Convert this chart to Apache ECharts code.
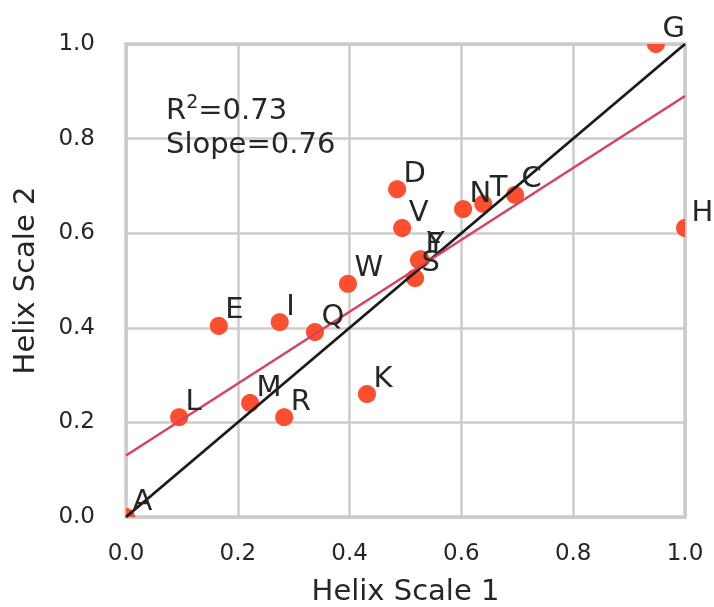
<!DOCTYPE html>
<html>
<head>
<meta charset="utf-8">
<script src="https://cdn.jsdelivr.net/npm/echarts@6/dist/echarts.min.js"></script>
<style>
  html, body { margin: 0; padding: 0; background: #ffffff; }
  #chart { width: 714px; height: 607px; }
</style>
</head>
<body>
<div id="chart"></div>
<script>
// Residue propensities on two helix scales
const residues = ['A', 'L', 'M', 'R', 'K', 'E', 'I', 'Q', 'W', 'D', 'V', 'F', 'Y', 'S', 'N', 'T', 'C', 'G', 'H'];
const scale1 = [0.00, 0.095, 0.222, 0.283, 0.431, 0.166, 0.275, 0.338, 0.397, 0.485, 0.494, 0.524, 0.527, 0.517, 0.603, 0.639, 0.696, 0.948, 1.00];
const scale2 = [0.00, 0.211, 0.241, 0.211, 0.260, 0.404, 0.412, 0.391, 0.493, 0.693, 0.611, 0.543, 0.545, 0.505, 0.651, 0.662, 0.681, 1.00, 0.611];

// Least-squares fit reported in the annotation
const fitSlope = 0.76;
const fitIntercept = 0.13;

const ticks = [0.0, 0.2, 0.4, 0.6, 0.8, 1.0];

const points = residues.map((r, i) => [scale1[i], scale2[i], r]);
const font = 'DejaVu Sans';
const textColor = '#262626';
const dotColor = '#fc4f30';
const gridColor = '#cccccc';

const chart = echarts.init(document.getElementById('chart'), null, { renderer: 'canvas' });

const axisCommon = {
  min: ticks[0],
  max: ticks[ticks.length - 1],
  interval: 0.2,
  axisLine: { show: false },
  axisTick: { show: false },
  splitLine: { show: true, lineStyle: { color: gridColor, width: 2.5 } },
  axisLabel: {
    color: textColor,
    fontFamily: font,
    fontSize: 23,
    formatter: v => v.toFixed(1)
  },
  nameTextStyle: { color: textColor, fontFamily: font, fontSize: 29 },
  nameLocation: 'middle'
};

// circle outline as a polygon, trimmed to the plotting rectangle
function clippedDot(cx, cy, r, rect) {
  const pts = [];
  const n = 48;
  for (let k = 0; k < n; k++) {
    const t = (k / n) * Math.PI * 2;
    pts.push([cx + r * Math.cos(t), cy + r * Math.sin(t)]);
  }
  return echarts.graphic.clipPointsByRect(pts, rect);
}

chart.setOption({
  animation: false,
  backgroundColor: '#ffffff',
  grid: {
    left: 126, right: 29, top: 44, bottom: 90,
    outerBoundsMode: 'none',
    containLabel: false,
    show: true, borderColor: gridColor, borderWidth: 3.5, backgroundColor: 'transparent'
  },
  xAxis: Object.assign({}, axisCommon, {
    type: 'value',
    name: 'Helix Scale 1',
    nameGap: 61,
    axisLabel: Object.assign({}, axisCommon.axisLabel, { margin: 26 })
  }),
  yAxis: Object.assign({}, axisCommon, {
    type: 'value',
    name: 'Helix Scale 2',
    nameGap: 85,
    axisLabel: Object.assign({}, axisCommon.axisLabel, { margin: 31 })
  }),
  graphic: [{
    type: 'text',
    left: 166,
    top: 94,
    z: 10,
    style: {
      text: '{a|R}{s|2}{a|=0.73}\n{a|Slope=0.76}',
      rich: {
        a: { fontFamily: font, fontSize: 29, fill: textColor, lineHeight: 34 },
        s: { fontFamily: font, fontSize: 19, fill: textColor, lineHeight: 34, verticalAlign: 'top' }
      }
    }
  }],
  series: [
    {
      // dots, trimmed at the plotting area
      type: 'custom',
      z: 2,
      data: points,
      renderItem: function (params, api) {
        const p = api.coord([api.value(0), api.value(1)]);
        const cs = params.coordSys;
        const rect = { x: cs.x, y: cs.y, width: cs.width, height: cs.height };
        return {
          type: 'polygon',
          shape: { points: clippedDot(p[0], p[1], 9, rect) },
          style: { fill: dotColor }
        };
      }
    },
    {
      // residue letters beside each dot
      type: 'custom',
      z: 4,
      clip: false,
      silent: true,
      data: points,
      renderItem: function (params, api) {
        const p = api.coord([api.value(0), api.value(1)]);
        return {
          type: 'text',
          x: p[0] + 6.5,
          y: p[1] - 15,
          style: {
            text: residues[params.dataIndex],
            fontFamily: font,
            fontSize: 29,
            fill: textColor,
            align: 'left',
            verticalAlign: 'middle'
          }
        };
      }
    },
    {
      // identity line
      type: 'line',
      z: 3,
      data: [[0, 0], [1, 1]],
      symbol: 'none',
      lineStyle: { color: '#1a1a1a', width: 2.8 }
    },
    {
      // fitted regression line
      type: 'line',
      z: 3,
      data: [[0, fitIntercept], [1, fitIntercept + fitSlope]],
      symbol: 'none',
      lineStyle: { color: '#d6435a', width: 2.5 }
    }
  ]
});
</script>
</body>
</html>
